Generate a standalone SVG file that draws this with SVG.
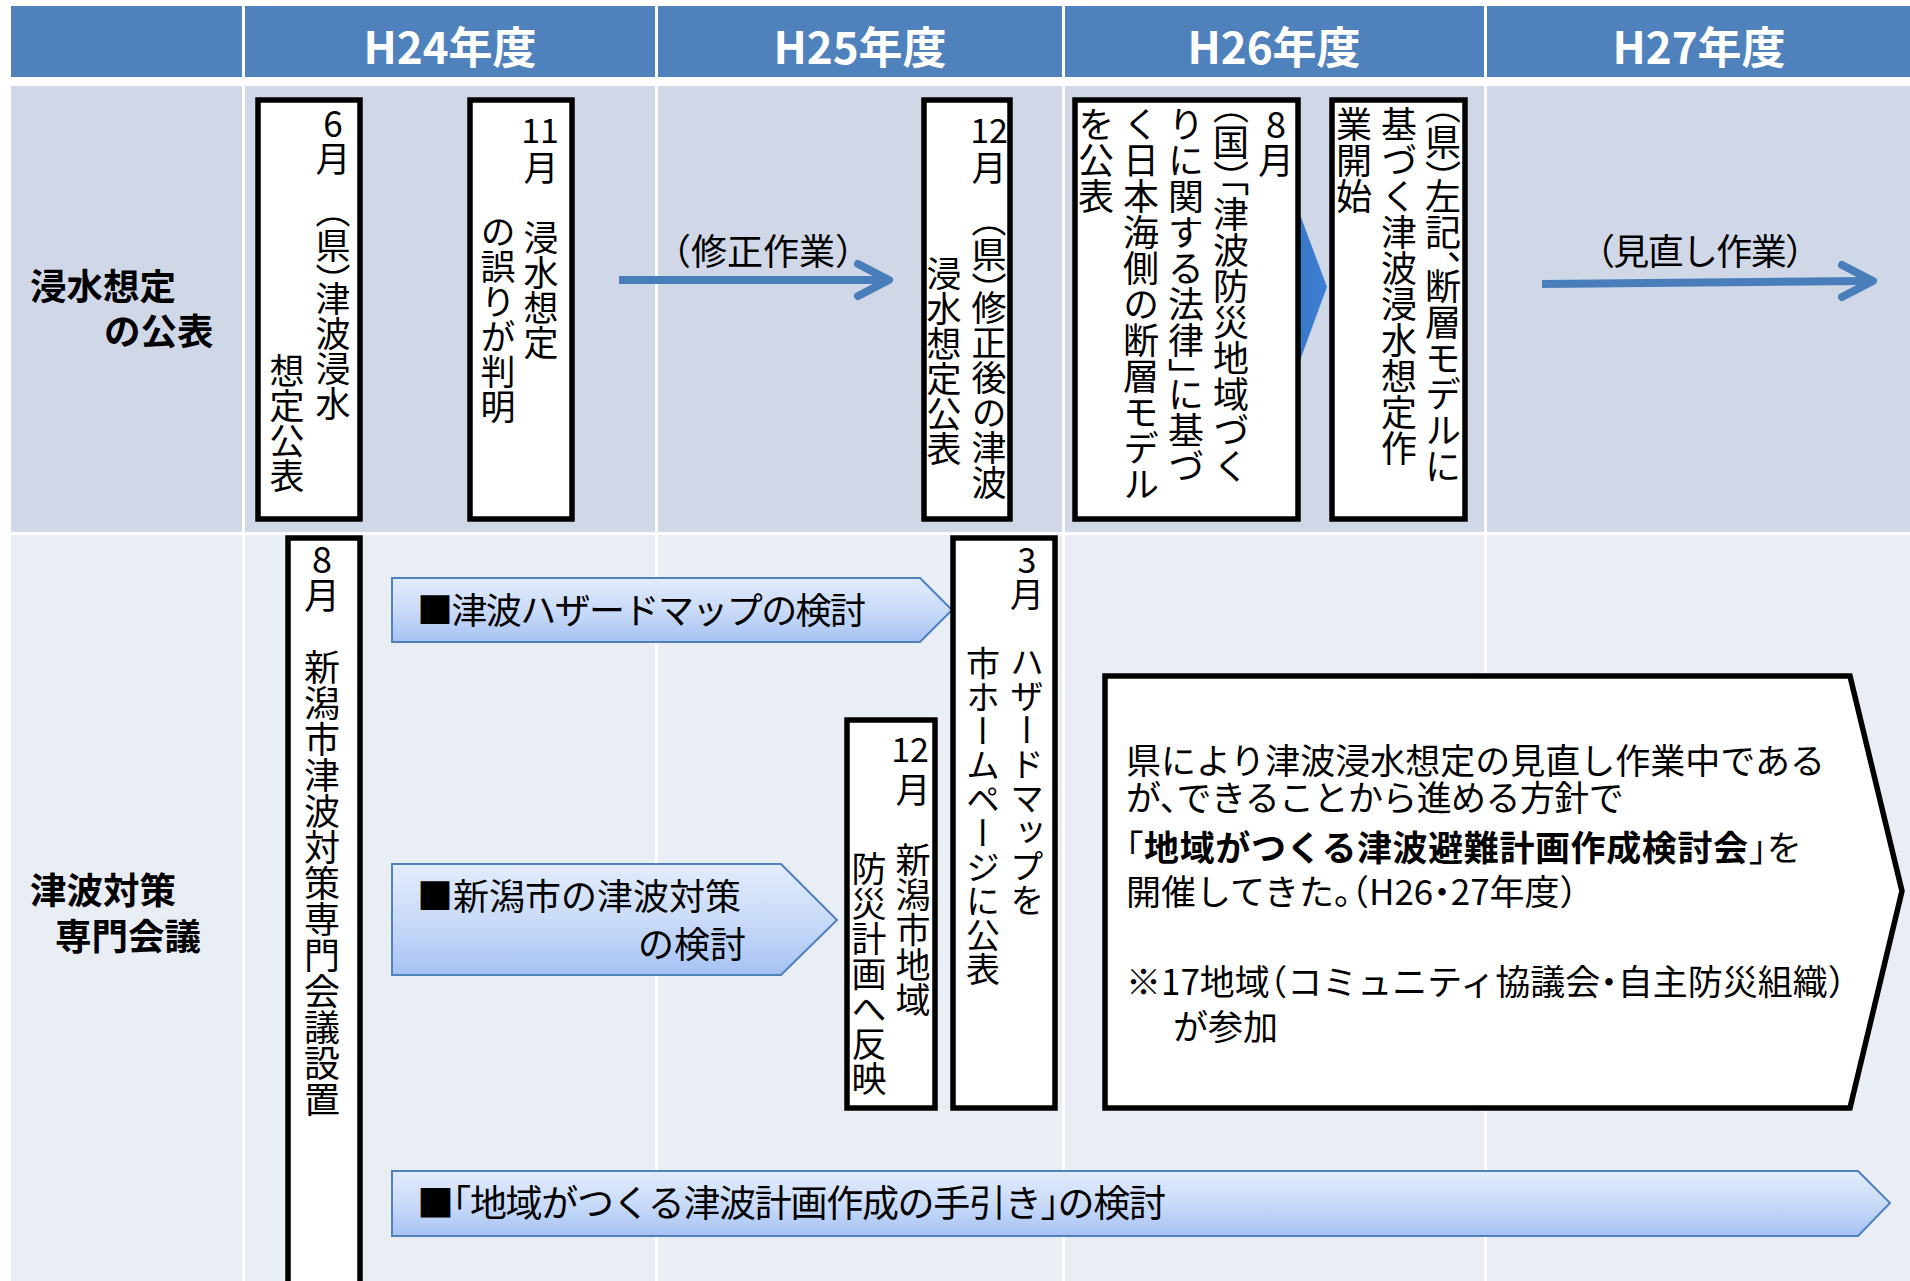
<svg xmlns="http://www.w3.org/2000/svg" width="1910" height="1281" viewBox="0 0 1910 1281">
<defs>
<linearGradient id="gArrow" x1="0" y1="0" x2="0" y2="1">
<stop offset="0" stop-color="#E2ECFC"/>
<stop offset="0.5" stop-color="#CADBF8"/>
<stop offset="1" stop-color="#A6C2F4"/>
</linearGradient>
<linearGradient id="gTri" x1="0" y1="0" x2="1" y2="0">
<stop offset="0" stop-color="#2B5896"/>
<stop offset="1" stop-color="#3D80D4"/>
</linearGradient>
</defs>
<style>
text { font-family: "Noto Sans CJK JP", "Noto Sans", sans-serif; fill: #000; }
.hdr { font-size: 44px; font-weight: bold; fill: #FFFFFF; text-anchor: middle; }
.lbl { font-size: 36.5px; font-weight: bold; }
.box { fill: #FFFFFF; stroke: #000; stroke-width: 5.5; }
.v { font-size: 35px; writing-mode: vertical-rl; text-orientation: upright; font-feature-settings: "vhal" 1; }
.v36 { font-size: 36px; }
.v34 { font-size: 34px; }
.num { font-size: 34px; text-anchor: middle; }
.arr { fill: url(#gArrow); stroke: #4F81BD; stroke-width: 2; }
.atx { font-size: 36px; }
.line { fill: none; stroke: #4A7EBB; stroke-width: 8; }
.head { fill: none; stroke: #4A7EBB; stroke-width: 8; stroke-linecap: round; stroke-linejoin: round; }
.cap { font-size: 36px; font-feature-settings: "halt" 1; }
.body { font-size: 35px; font-feature-settings: "halt" 1; }
.hb { font-weight: bold; }
</style>
<rect x="0" y="0" width="1910" height="1281" fill="#FFFFFF"/>
<g id="table">
<rect x="11" y="6" width="231" height="71" fill="#4F81BD"/>
<rect x="245" y="6" width="410" height="71" fill="#4F81BD"/>
<rect x="658" y="6" width="404" height="71" fill="#4F81BD"/>
<rect x="1065" y="6" width="419" height="71" fill="#4F81BD"/>
<rect x="1487" y="6" width="423" height="71" fill="#4F81BD"/>
<rect x="11" y="86" width="231" height="446" fill="#D0D8E8"/>
<rect x="245" y="86" width="410" height="446" fill="#D0D8E8"/>
<rect x="658" y="86" width="404" height="446" fill="#D0D8E8"/>
<rect x="1065" y="86" width="419" height="446" fill="#D0D8E8"/>
<rect x="1487" y="86" width="423" height="446" fill="#D0D8E8"/>
<rect x="11" y="535" width="231" height="746" fill="#E9EDF4"/>
<rect x="245" y="535" width="410" height="746" fill="#E9EDF4"/>
<rect x="658" y="535" width="404" height="746" fill="#E9EDF4"/>
<rect x="1065" y="535" width="419" height="746" fill="#E9EDF4"/>
<rect x="1487" y="535" width="423" height="746" fill="#E9EDF4"/>
<text class="hdr" x="450" y="64">H24年度</text>
<text class="hdr" x="860" y="64">H25年度</text>
<text class="hdr" x="1274" y="64">H26年度</text>
<text class="hdr" x="1699" y="64">H27年度</text>
<text class="lbl" x="30" y="300">浸水想定</text>
<text class="lbl" x="104" y="345">の公表</text>
<text class="lbl" x="30" y="904">津波対策</text>
<text class="lbl" x="55" y="950">専門会議</text>
</g>
<g id="connectors">
<polygon points="1200,212 1299,212 1327,287 1299,363 1200,363" fill="url(#gTri)"/>
<line class="line" x1="619" y1="280" x2="885" y2="280"/>
<polyline class="head" points="858,264 889,280 858,296"/>
<text class="cap" x="673" y="265">（修正作業）</text>
<line class="line" x1="1542" y1="284" x2="1868" y2="281"/>
<polyline class="head" points="1842,265 1873,281 1842,297"/>
<text class="cap" x="1597" y="265" textLength="206" lengthAdjust="spacing">（見直し作業）</text>
</g>
<g id="node-jun-ken">
<rect class="box" x="258" y="100" width="102" height="419"/>
<text class="v" x="333" y="106">6月　（県）津波浸水</text>
<text class="v" x="287" y="353">想定公表</text>
</g>
<g id="node-nov-error">
<rect class="box" x="470" y="100" width="102" height="419"/>
<text class="num" x="540" y="143">11</text>
<text class="v" x="541" y="150">月　浸水想定</text>
<text class="v" x="498" y="214">の誤りが判明</text>
</g>
<g id="node-dec-revised">
<rect class="box" x="924" y="100" width="86" height="419"/>
<text class="num" x="989" y="143">12</text>
<text class="v" x="989" y="150">月　（県）修正後の津波</text>
<text class="v" x="944" y="256">浸水想定公表</text>
</g>
<g id="node-aug-kuni">
<rect class="box" x="1075" y="100" width="223" height="419"/>
<text class="v v36" x="1276" y="106">8月</text>
<text class="v v36" x="1231" y="106">（国）「津波防災地域づく</text>
<text class="v v36" x="1186" y="106">りに関する法律」に基づ</text>
<text class="v v36" x="1141" y="106">く日本海側の断層モデル</text>
<text class="v v36" x="1096" y="106">を公表</text>
</g>
<g id="node-ken-start">
<rect class="box" x="1332" y="100" width="133" height="419"/>
<text class="v v36" x="1443" y="106">（県）左記、断層モデルに</text>
<text class="v v36" x="1399" y="106">基づく津波浸水想定作</text>
<text class="v v36" x="1354" y="106">業開始</text>
</g>
<g id="node-aug-council">
<rect class="box" x="288" y="538" width="72" height="800"/>
<text class="v v36" x="322" y="541">8月　新潟市津波対策専門会議設置</text>
</g>
<g id="node-hazard-study">
<polygon class="arr" points="392,578 920,578 952,610 920,642 392,642"/>
<text class="atx" x="417" y="624" textLength="449" lengthAdjust="spacing">■津波ハザードマップの検討</text>
</g>
<g id="node-city-study">
<polygon class="arr" points="392,864 781,864 837,920 781,975 392,975"/>
<text class="atx" x="417" y="910">■新潟市の津波対策</text>
<text class="atx" x="746" y="958" text-anchor="end">の検討</text>
</g>
<g id="node-guide-study">
<polygon class="arr" points="392,1171 1858,1171 1890,1203 1858,1236 392,1236"/>
<text class="atx" x="417" y="1217" style="font-size:37px; font-feature-settings:'halt' 1;" textLength="749" lengthAdjust="spacing">■「地域がつくる津波計画作成の手引き」の検討</text>
</g>
<g id="node-dec-plan">
<rect class="box" x="847" y="720" width="88" height="388"/>
<text class="num" x="910" y="762">12</text>
<text class="v" x="913" y="772">月　新潟市地域</text>
<text class="v" x="869" y="851">防災計画へ反映</text>
</g>
<g id="node-mar-hazard">
<rect class="box" x="953" y="538" width="102" height="570"/>
<text class="v v34" x="1027" y="543">3月　ハザードマップを</text>
<text class="v v34" x="983" y="646">市ホームページに公表</text>
</g>
<g id="node-council-note">
<polygon class="box" points="1105,676 1850,676 1902,891 1850,1108 1105,1108"/>
<text class="body"><tspan x="1126" y="774">県により津波浸水想定の見直し作業中である</tspan><tspan x="1126" y="811" letter-spacing="-0.6">が、できることから進める方針で</tspan><tspan x="1126" y="861" letter-spacing="0.6">「<tspan class="hb">地域がつくる津波避難計画作成検討会</tspan>」を</tspan><tspan x="1126" y="905">開催してきた。（H26・27年度）</tspan><tspan x="1126" y="995">※17地域（コミュニティ協議会・自主防災組織）</tspan><tspan x="1173" y="1040">が参加</tspan></text>
</g>
</svg>
